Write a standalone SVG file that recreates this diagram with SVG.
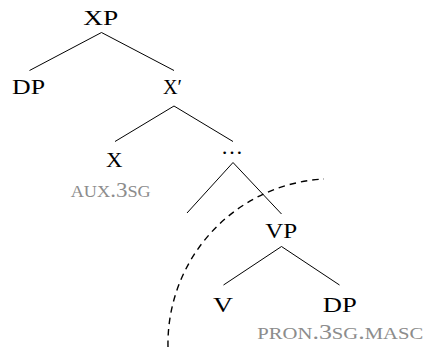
<svg xmlns="http://www.w3.org/2000/svg" width="425" height="347" viewBox="0 0 425 347">
<style>
.lbl{font-family:"Liberation Serif","DejaVu Serif",serif;font-size:22px;fill:#000;text-anchor:middle}
.gl{font-family:"Liberation Serif","DejaVu Serif",serif;font-size:22px;fill:#8c8c8c;text-anchor:middle}
.sc{font-size:17.5px}
.edge{stroke:#000;stroke-width:1;fill:none}
.cut{stroke:#000;stroke-width:1.4;fill:none;stroke-dasharray:6.5 5}
</style>
<rect width="425" height="347" fill="#fff"/>
<g id="connectors">
<line class="edge" x1="101.5" y1="32.5" x2="29.5" y2="70.5"/>
<line class="edge" x1="101.5" y1="32.5" x2="174" y2="70.5"/>
<line class="edge" x1="174" y1="106" x2="115" y2="141.5"/>
<line class="edge" x1="174" y1="106" x2="233" y2="141.5"/>
<line class="edge" x1="233" y1="162.5" x2="187" y2="213"/>
<line class="edge" x1="233" y1="162.5" x2="281.5" y2="214"/>
<line class="edge" x1="281.5" y1="246.5" x2="223.5" y2="285"/>
<line class="edge" x1="281.5" y1="246.5" x2="339.5" y2="285"/>
<path class="cut" d="M 168 347 A 165 165 0 0 1 324 179"/>
</g>
<g id="XP"><text class="lbl" x="100.8" y="25" textLength="35" lengthAdjust="spacingAndGlyphs">XP</text></g>
<g id="DP1"><text class="lbl" x="28.5" y="94" textLength="33" lengthAdjust="spacingAndGlyphs">DP</text></g>
<g id="Xbar"><text class="lbl" x="172.5" y="94" textLength="19" lengthAdjust="spacingAndGlyphs">X′</text></g>
<g id="X">
<text class="lbl" x="114.3" y="166.5" textLength="16.5" lengthAdjust="spacingAndGlyphs">X</text>
<text class="gl" x="110.7" y="196.5" textLength="80" lengthAdjust="spacingAndGlyphs"><tspan class="sc">AUX</tspan>.3<tspan class="sc">SG</tspan></text>
</g>
<g id="dots"><text class="lbl" x="232" y="153.5" textLength="25" lengthAdjust="spacing">…</text></g>
<g id="VP"><text class="lbl" x="281.2" y="237.7" textLength="32" lengthAdjust="spacingAndGlyphs">VP</text></g>
<g id="V"><text class="lbl" x="223" y="311.7" textLength="20" lengthAdjust="spacingAndGlyphs">V</text></g>
<g id="DP2">
<text class="lbl" x="339.7" y="311.7" textLength="34" lengthAdjust="spacingAndGlyphs">DP</text>
<text class="gl" x="340.3" y="338.7" textLength="166" lengthAdjust="spacingAndGlyphs"><tspan class="sc">PRON</tspan>.3<tspan class="sc">SG</tspan>.<tspan class="sc">MASC</tspan></text>
</g>
</svg>
